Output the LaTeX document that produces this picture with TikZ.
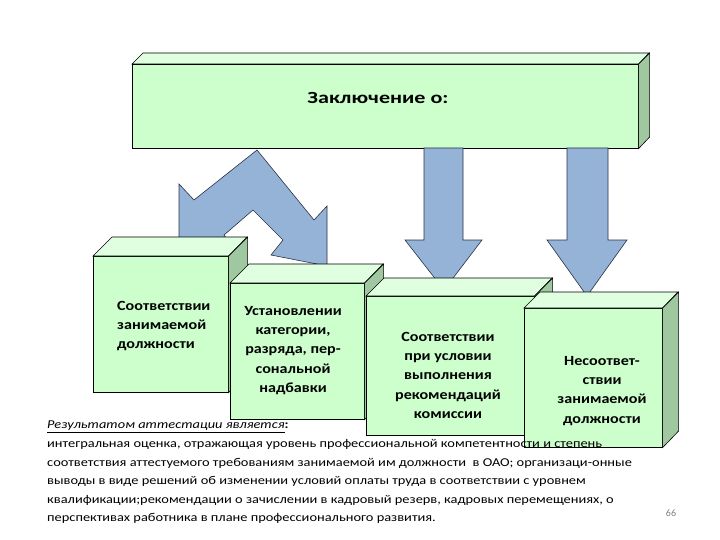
\documentclass[tikz,border=0pt]{standalone}
\usepackage{fontspec}
\setmainfont{Carlito}
\begin{document}
\begin{tikzpicture}[x=1pt,y=-1pt,
  front/.style={draw=black,line width=0.6pt,fill=green!20,inner sep=0pt,anchor=north west},
  topf/.style={draw=black,line width=0.6pt,fill=green!12},
  sidef/.style={draw=black,line width=0.6pt,fill={rgb,255:red,160;green,200;blue,160}},
  btxt/.style={font=\bfseries\fontsize{14}{19.3}\selectfont,inner sep=0pt,anchor=north},
  arr/.style={draw={rgb,255:red,40;green,50;blue,70},line width=0.6pt,fill={rgb,255:red,149;green,179;blue,215}}]
\useasboundingbox (0,0) rectangle (720,540);
\newcommand{\cube}[6]{% name, x, y, w, h, depth
  \node[front,minimum width=#4pt,minimum height=#5pt] (#1) at (#2,#3) {};
  \draw[topf] (#1.north west) -- ++(#6,-#6) -- ++(#4,0) -- (#1.north east) -- cycle;
  \draw[sidef] (#1.north east) -- ++(#6,-#6) -- ++(0,#5) -- (#1.south east) -- cycle;}
\newcommand{\wx}[2]{\scalebox{#1}[1]{#2}}
% top box
\cube{top}{132}{64}{506}{84}{11}
\node[font=\bfseries\fontsize{17}{19}\selectfont] (title) at (378,98) {\wx{1.3}{Заключение о:}};
% arrows
\draw[arr] (424,148) -- (463,148) -- (463,240) -- (482,240) -- (444,290) -- (405,240) -- (424,240) -- cycle;
\draw[arr] (567,148) -- (608,148) -- (608,240) -- (627,240) -- (587,296) -- (547,240) -- (567,240) -- cycle;
\draw[arr] (257,150) -- (314,220) -- (327,206) -- (327,266) -- (271,255) -- (283,240) -- (253,210) -- (224,235) -- (236,252) -- (179,243) -- (179,184) -- (194,200) -- cycle;
% lower boxes
\cube{b1}{93}{256}{135}{136}{19}
\cube{b2}{230}{283}{134}{136}{19}
\cube{b3}{366}{296}{168}{139}{18}
\cube{b4}{524}{308}{138}{139}{16}
\node[btxt,align=left,anchor=north west] (t1) at (117,301) {\wx{1.15}{Соответствии}\\\wx{1.15}{занимаемой}\\\wx{1.15}{должности}};
\node[btxt,align=center] (t2) at (293,306) {\wx{1.15}{Установлении}\\\wx{1.15}{категории,}\\\wx{1.15}{разряда, пер-}\\\wx{1.15}{сональной}\\\wx{1.15}{надбавки}};
\node[btxt,align=center] (t3) at (448,332) {\wx{1.15}{Соответствии}\\\wx{1.15}{при условии}\\\wx{1.15}{выполнения}\\\wx{1.15}{рекомендаций}\\\wx{1.15}{комиссии}};
\node[btxt,align=center] (t4) at (602,356) {\wx{1.15}{Несоответ-}\\\wx{1.15}{ствии}\\\wx{1.15}{занимаемой}\\\wx{1.15}{должности}};
% bottom text
\node[font=\fontsize{12}{18.6}\selectfont,align=left,anchor=north west,inner sep=0pt] (txt) at (47,421) {\wx{1.2}{\underline{\itshape Результатом аттестации является}\textbf{:}}\\
\wx{1.2}{интегральная оценка, отражающая уровень профессиональной компетентности и степень}\\
\wx{1.2}{соответствия аттестуемого требованиям занимаемой им должности \ в ОАО; организаци-онные}\\
\wx{1.2}{выводы в виде решений об изменении условий оплаты труда в соответствии с уровнем}\\
\wx{1.2}{квалификации;рекомендации о зачислении в кадровый резерв, кадровых перемещениях, о}\\
\wx{1.2}{перспективах работника в плане профессионального развития.}};
\node[font=\fontsize{10}{11}\selectfont,text=gray] (pg) at (671,513) {66};
\end{tikzpicture}
\end{document}
